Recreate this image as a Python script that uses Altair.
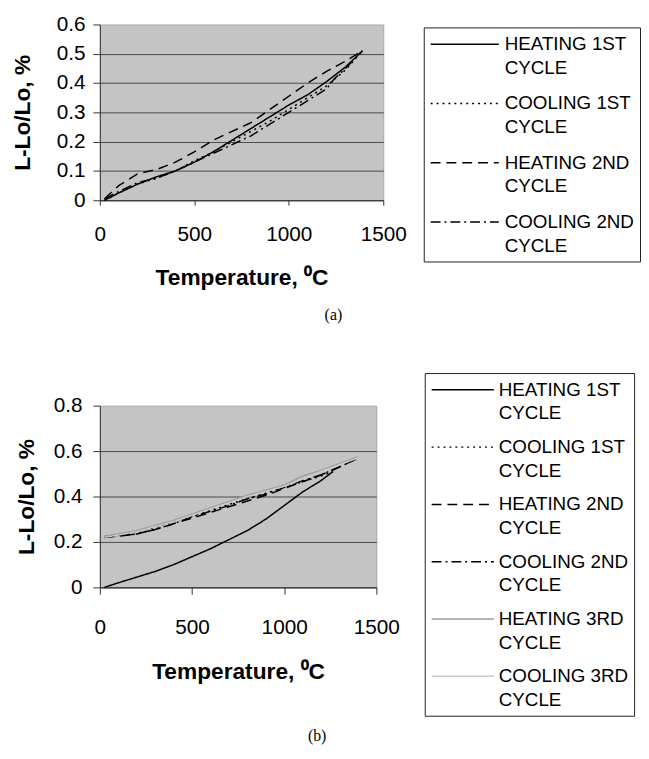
import altair as alt
import pandas as pd

# ---------------- series definitions ----------------
SERIES = ["HEATING 1ST CYCLE", "COOLING 1ST CYCLE", "HEATING 2ND CYCLE",
          "COOLING 2ND CYCLE", "HEATING 3RD CYCLE", "COOLING 3RD CYCLE"]
SERIES_COLORS = ["#000000", "#000000", "#000000", "#000000", "#9c9c9c", "#cacaca"]
SERIES_DASHES = [[1, 0], [2, 4], [10, 6], [10, 4, 2, 4], [1, 0], [1, 0]]

X_TICKS = [0, 500, 1000, 1500]
A_Y_TICKS = [0, 0.1, 0.2, 0.3, 0.4, 0.5, 0.6]
B_Y_TICKS = [0, 0.2, 0.4, 0.6, 0.8]

# ---------------- panel (a) data ----------------
A_H1_T = [25, 100, 200, 300, 400, 500, 600, 700, 800, 900, 1000, 1100, 1200, 1300, 1390]
A_H1_V = [0.0, 0.025, 0.055, 0.08, 0.10, 0.13, 0.165, 0.205, 0.245, 0.285, 0.325, 0.36, 0.405, 0.455, 0.51]

A_C1_T = [1390, 1300, 1200, 1100, 1000, 900, 800, 700, 600, 500, 400, 300, 200, 100, 25]
A_C1_V = [0.51, 0.445, 0.39, 0.35, 0.31, 0.27, 0.235, 0.20, 0.165, 0.135, 0.10, 0.075, 0.055, 0.025, 0.0]

A_H2_T = [25, 100, 200, 300, 400, 500, 600, 700, 800, 900, 1000, 1100, 1200, 1300, 1390]
A_H2_V = [0.005, 0.05, 0.09, 0.105, 0.13, 0.165, 0.205, 0.235, 0.265, 0.31, 0.355, 0.40, 0.44, 0.475, 0.51]

A_C2_T = [1390, 1300, 1240, 1200, 1100, 1000, 900, 800, 700, 600, 500, 400, 300, 200, 100, 25]
A_C2_V = [0.51, 0.45, 0.414, 0.38, 0.34, 0.30, 0.26, 0.22, 0.19, 0.16, 0.13, 0.10, 0.075, 0.06, 0.03, 0.005]

# ---------------- panel (b) data ----------------
B_H1_T = [25, 100, 200, 300, 400, 500, 600, 700, 800, 900, 1000, 1100, 1200, 1265]
B_H1_V = [0.0, 0.02, 0.045, 0.07, 0.10, 0.135, 0.17, 0.21, 0.25, 0.30, 0.36, 0.42, 0.47, 0.51]

B_C1_T = [1265, 1200, 1100, 1000, 900, 800, 700, 600, 500, 400, 300, 200, 100, 25]
B_C1_V = [0.51, 0.49, 0.465, 0.44, 0.415, 0.39, 0.365, 0.34, 0.315, 0.29, 0.265, 0.245, 0.23, 0.22]

B_H2_T = [25, 100, 200, 300, 400, 500, 600, 700, 800, 900, 1000, 1100, 1200, 1300, 1390]
B_H2_V = [0.22, 0.225, 0.235, 0.255, 0.28, 0.305, 0.33, 0.355, 0.38, 0.405, 0.435, 0.465, 0.495, 0.53, 0.565]

B_C2_T = [1390, 1300, 1200, 1100, 1000, 900, 800, 700, 600, 500, 400, 300, 200, 100, 30]
B_C2_V = [0.565, 0.53, 0.495, 0.47, 0.44, 0.41, 0.39, 0.36, 0.335, 0.31, 0.28, 0.255, 0.235, 0.228, 0.225]

B_H3_T = [25, 200, 400, 600, 800, 1000, 1100, 1200, 1300, 1400]
B_H3_V = [0.225, 0.25, 0.295, 0.35, 0.405, 0.45, 0.49, 0.515, 0.545, 0.575]

B_C3_T = [1400, 1300, 1200, 1000, 800, 600, 400, 200, 25]
B_C3_V = [0.57, 0.54, 0.51, 0.445, 0.40, 0.345, 0.29, 0.245, 0.22]


def rows(series, temps, values):
    return [{"series": series, "T": t, "v": v} for t, v in zip(temps, values)]


df_a = pd.DataFrame(
    rows(SERIES[0], A_H1_T, A_H1_V) + rows(SERIES[1], A_C1_T, A_C1_V)
    + rows(SERIES[2], A_H2_T, A_H2_V) + rows(SERIES[3], A_C2_T, A_C2_V)
)
df_b = pd.DataFrame(
    rows(SERIES[0], B_H1_T, B_H1_V) + rows(SERIES[1], B_C1_T, B_C1_V)
    + rows(SERIES[2], B_H2_T, B_H2_V) + rows(SERIES[3], B_C2_T, B_C2_V)
    + rows(SERIES[4], B_H3_T, B_H3_V) + rows(SERIES[5], B_C3_T, B_C3_V)
)

FONT = "Liberation Sans"


def panel(df, n, ymax, yticks, width, height, ytitle_x, ylab_pad, xlab_pad, xtick,
          xtitle_y, legend_x, legend_y, sym_len, label_off, row_pad, caption, cap_dx, cap_off):
    names = SERIES[:n]
    legend = alt.Legend(
        title=None, orient="none", legendX=legend_x, legendY=legend_y,
        symbolType=f"M-1,0L{(sym_len - 10) / 10:.2f},0",
        symbolSize=400, symbolStrokeWidth=1.5, symbolOffset=0,
        labelOffset=label_off, labelExpr="[replace(datum.label, ' CYCLE', ''), 'CYCLE']",
        labelFont=FONT, labelFontSize=19, labelColor="black", labelLimit=400,
        labelBaseline="middle",
        strokeColor="#222222", fillColor="white", padding=6, rowPadding=row_pad,
        cornerRadius=0,
    )
    return alt.Chart(df).mark_line(strokeWidth=1.5).encode(
        x=alt.X("T:Q", scale=alt.Scale(domain=[0, 1500], nice=False),
                axis=alt.Axis(values=X_TICKS, format="d", title="Temperature, ⁰C",
                              grid=False, labelFlush=False, labelFont=FONT,
                              labelFontSize=21, labelColor="black",
                              labelPadding=xlab_pad, tickSize=xtick,
                              tickColor="#333333", domainColor="#333333",
                              titleFont=FONT, titleFontSize=23, titleFontWeight="bold",
                              titleColor="black", titleY=xtitle_y)),
        y=alt.Y("v:Q", scale=alt.Scale(domain=[0, ymax], nice=False),
                axis=alt.Axis(values=yticks, format=".1~f", title="L-Lo/Lo, %",
                              labelFont=FONT, labelFontSize=21, labelColor="black",
                              labelPadding=ylab_pad, tickSize=7,
                              tickColor="#333333", domainColor="#333333",
                              gridColor={"condition": {"test": f"datum.value >= {ymax}",
                                                       "value": "transparent"},
                                         "value": "#4a4a4a"},
                              gridWidth=1, titleFont=FONT, titleFontSize=23,
                              titleFontWeight="bold", titleColor="black",
                              titleX=ytitle_x)),
        color=alt.Color("series:N", scale=alt.Scale(domain=names, range=SERIES_COLORS[:n]),
                        legend=legend),
        strokeDash=alt.StrokeDash("series:N",
                                  scale=alt.Scale(domain=names, range=SERIES_DASHES[:n]),
                                  legend=legend),
    ).properties(
        width=width, height=height,
        title=alt.TitleParams(caption, orient="bottom", anchor="middle", frame="group",
                              font="Liberation Serif", fontSize=16, fontWeight="normal",
                              color="black", dx=cap_dx, offset=cap_off),
    )


chart_a = panel(df_a, 4, 0.6, A_Y_TICKS, 287, 178, -66, 8, 18.5, 5, 67,
                328, 3, 69, 54, 15, "(a)", 93, 18)
chart_b = panel(df_b, 6, 0.8, B_Y_TICKS, 280, 184, -62, 11, 22.5, 7, 74,
                329, -33, 63, 47, 13, "(b)", 80, 12)

chart = alt.vconcat(chart_a, chart_b, spacing=49).resolve_scale(
    color="independent", strokeDash="independent"
).resolve_legend(
    color="independent", strokeDash="independent"
).properties(
    padding={"left": 3, "top": 0, "right": 0, "bottom": 0}
).configure(
    style={"guide-label": {"lineHeight": 24}}
).configure_view(
    fill="#c4c4c4", stroke="#a8a8a8"
)

chart.save("out.html", embed_options={"renderer": "svg", "actions": False})
